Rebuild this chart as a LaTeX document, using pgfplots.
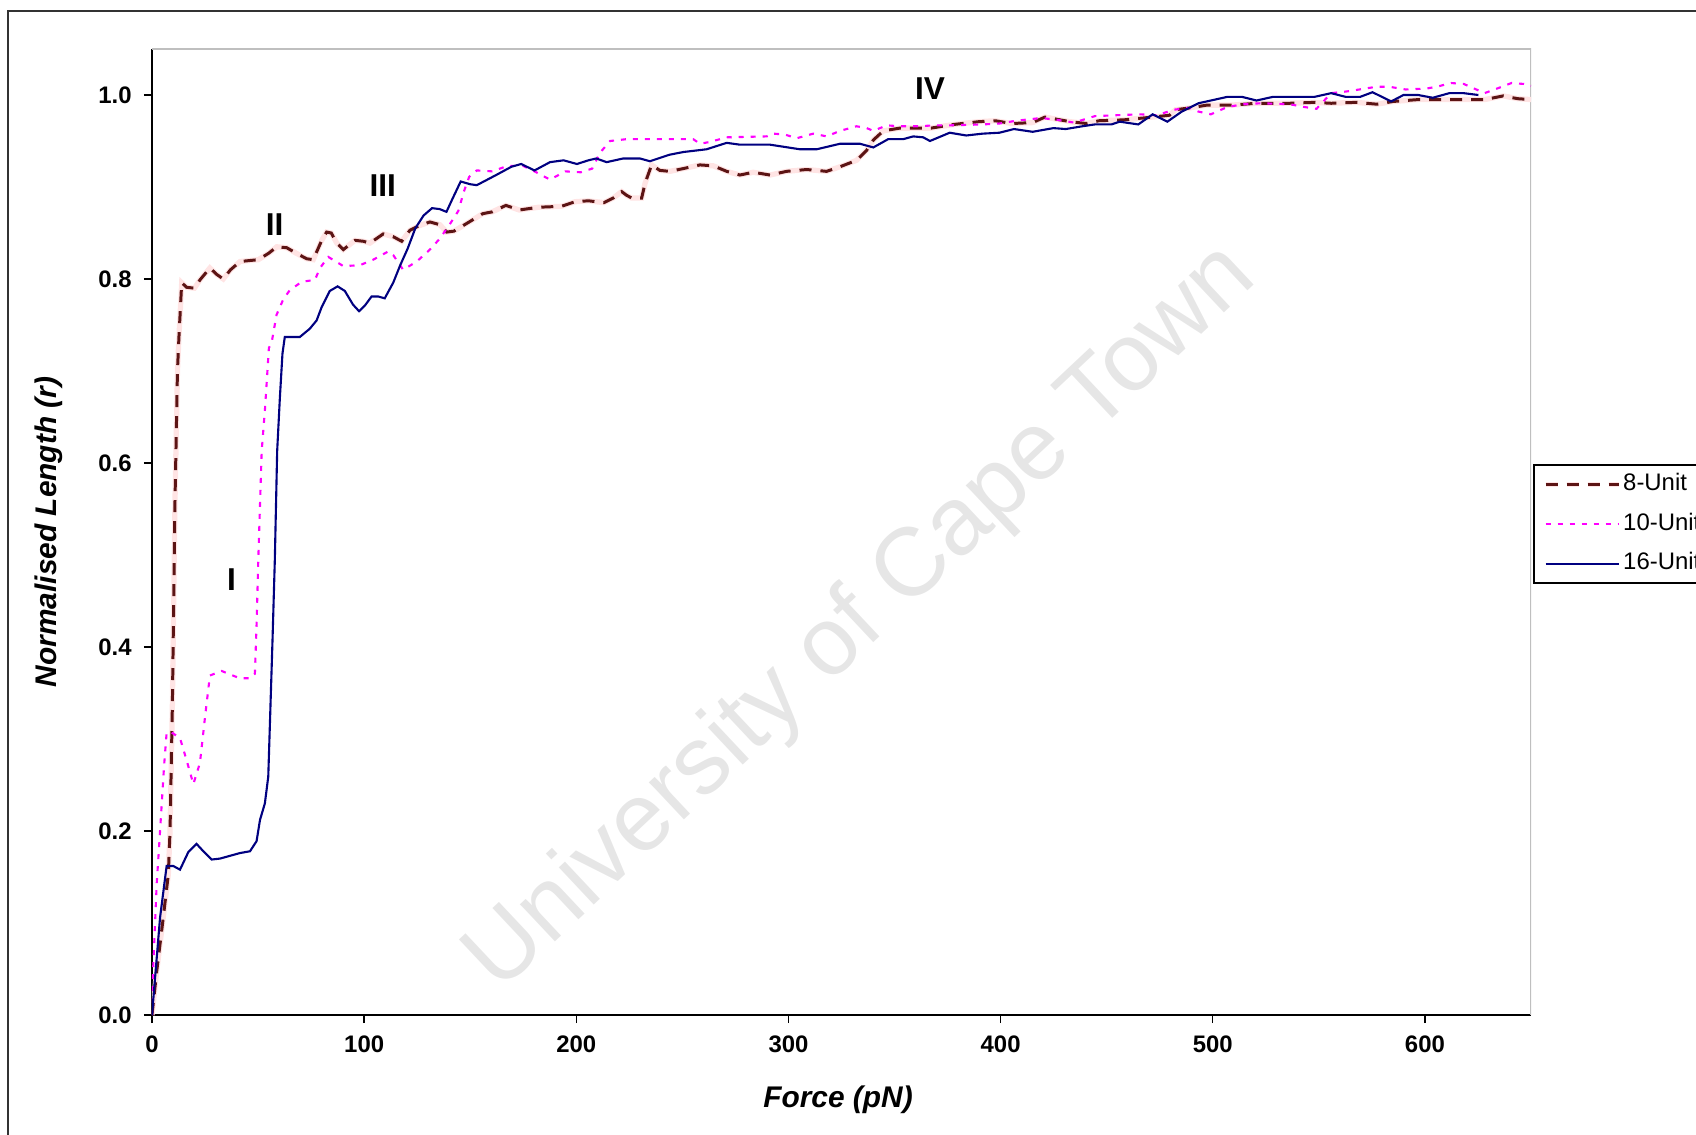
\documentclass[border=0pt]{standalone}
\usepackage{fontspec}
\setmainfont{Liberation Sans}
\usepackage{pgfplots}
\usepackage{pgfplotstable}
\pgfplotsset{compat=1.18}
\definecolor{maroon}{HTML}{5C1414}
\definecolor{halo}{HTML}{FFE4E4}
\definecolor{mag}{HTML}{FF00FF}
\definecolor{navy}{HTML}{000080}
\definecolor{framegray}{HTML}{BFBFBF}
\definecolor{wm}{HTML}{E6E6E6}
\pgfplotsset{
  plainlegend/.style={legend image code/.code={\draw[##1] (0mm,0mm) -- (7.3mm,0mm);}},
  halolegend/.style={legend image code/.code={\draw[halo, line width=1.5pt] (0mm,0mm) -- (7.3mm,0mm); \draw[##1] (0mm,0mm) -- (7.3mm,0mm);}},
}

\pgfplotstableread{
x y
0 0
2.2 0.047
5 0.10
7.7 0.153
8.5 0.2
9.6 0.336
10.8 0.554
12.0 0.70
12.7 0.737
14 0.796
16.3 0.791
20 0.790
22.6 0.799
27.3 0.812
30.5 0.805
33.6 0.800
37 0.810
41.5 0.819
50.1 0.821
55 0.828
58.8 0.835
63.5 0.834
68 0.828
72.9 0.822
76 0.821
80 0.842
82.3 0.851
84.5 0.850
87.1 0.839
90.2 0.832
95.7 0.842
99.6 0.841
102.7 0.839
109 0.849
113.7 0.846
117.7 0.841
121.6 0.853
126 0.858
131 0.862
135.7 0.859
138.9 0.851
142.3 0.852
149.5 0.862
155.9 0.871
160.4 0.873
166.8 0.880
173.1 0.875
182.2 0.878
193 0.879
199.4 0.884
205.7 0.885
213 0.883
217.4 0.888
221.4 0.895
223.7 0.891
226.1 0.888
230.8 0.888
232.4 0.904
235.5 0.924
239.4 0.918
244.1 0.917
250.4 0.920
258.3 0.924
264.6 0.923
270.9 0.917
277.1 0.913
283.4 0.916
291.3 0.913
299.1 0.917
308.6 0.919
318 0.917
324.3 0.922
332.1 0.929
336.9 0.940
340 0.951
344.7 0.961
352.5 0.964
367.2 0.964
378 0.968
389.7 0.971
397.5 0.972
405.3 0.969
415.1 0.970
420.9 0.976
432.7 0.971
440.5 0.969
446.3 0.972
458.1 0.973
471.7 0.976
479.6 0.978
482.5 0.984
489.3 0.986
497.2 0.989
508.9 0.989
520.6 0.991
536.2 0.991
548 0.992
555.8 0.991
567.5 0.992
577.3 0.990
585.1 0.993
596.8 0.995
610.5 0.995
628.1 0.995
636.9 0.999
643.7 0.996
650 0.995
}\eightunit

\pgfplotstableread{
x y
0 0
0.6 0.053
2.2 0.142
3.5 0.189
4.6 0.23
5.7 0.271
6.9 0.307
9.3 0.307
13.2 0.301
16.3 0.277
19.5 0.251
22.6 0.274
25 0.324
27.3 0.369
32.8 0.374
37 0.370
41.4 0.366
46.2 0.366
48.5 0.371
49.3 0.425
50.1 0.495
51.7 0.613
53.3 0.660
55.1 0.725
56.4 0.731
58.7 0.761
61.9 0.778
65 0.788
70.6 0.797
76.8 0.799
79.2 0.812
83.1 0.824
90.2 0.814
98 0.815
104.3 0.821
111.4 0.830
113.7 0.826
118.4 0.810
124.8 0.819
131 0.832
135.7 0.844
140.5 0.860
144.4 0.874
147 0.895
149.5 0.911
153.1 0.918
160.4 0.917
167.6 0.923
174.9 0.923
180.3 0.917
187.6 0.908
194.8 0.917
202.1 0.916
207.5 0.920
211.1 0.937
215.9 0.950
223.7 0.952
255.1 0.952
258.3 0.947
263 0.949
270.9 0.954
289.7 0.955
292.8 0.958
298.3 0.957
303.9 0.953
311.7 0.958
318 0.955
324.3 0.961
332.1 0.966
336.9 0.964
340 0.961
346.3 0.967
352.5 0.966
362 0.966
368.2 0.967
376 0.967
391.6 0.968
399.4 0.969
407.3 0.972
419 0.975
426.8 0.973
434.6 0.970
444.4 0.977
454.2 0.978
465.9 0.979
473.7 0.978
481.5 0.984
489.3 0.986
493.2 0.982
499.1 0.979
506.9 0.987
514.7 0.990
522.5 0.991
536.2 0.990
543 0.987
548.9 0.985
555.8 1.002
563.6 1.004
577.3 1.009
583.1 1.009
590.9 1.006
600.7 1.007
605.6 1.009
612.4 1.013
618.3 1.012
625.2 1.005
628.1 1.002
634 1.007
640.8 1.013
646.7 1.012
650 1.010
}\tenunit

\pgfplotstableread{
x y
0 0
3.8 0.106
6.9 0.162
10 0.162
13.2 0.158
17.1 0.177
21 0.186
24.2 0.178
28.1 0.169
32 0.170
41.4 0.176
46.2 0.178
49.3 0.189
50.9 0.212
53.2 0.23
54.8 0.259
55.6 0.318
56.8 0.407
57.9 0.495
59 0.613
60.3 0.672
61.5 0.719
62.6 0.737
69.7 0.737
74.4 0.746
77.6 0.755
79.9 0.769
83.8 0.787
87.5 0.792
90.9 0.787
94.8 0.772
97.6 0.765
100.3 0.771
103.5 0.781
106.6 0.781
109.7 0.779
113.7 0.796
117 0.815
120.5 0.833
124.1 0.855
128 0.869
132 0.877
135.6 0.876
138.8 0.873
141.4 0.886
145.5 0.906
150 0.903
153.1 0.902
162.2 0.913
169.4 0.922
174 0.925
180.3 0.918
187.6 0.927
194 0.929
200.3 0.925
205.7 0.929
209.4 0.931
214.3 0.927
222.1 0.931
230 0.931
234.7 0.928
243.8 0.935
250.4 0.938
261.4 0.941
270.9 0.948
277.1 0.946
291.3 0.946
305.4 0.941
313.3 0.941
324.3 0.947
333.7 0.947
340 0.943
347 0.952
354.1 0.952
358.8 0.955
363.5 0.954
366.7 0.950
376 0.959
383.8 0.956
391.6 0.958
399.4 0.959
406.3 0.963
415.1 0.960
424.9 0.964
430.7 0.963
438.5 0.966
444.4 0.968
452.2 0.968
456.1 0.971
464.9 0.968
471.7 0.979
478.6 0.971
485.4 0.982
493.2 0.991
506.9 0.998
513.7 0.998
520.6 0.994
528.4 0.998
548 0.998
555.8 1.002
562.6 0.998
569.5 0.998
575.3 1.003
584.1 0.993
589.9 1.0
596.8 1.0
603.7 0.997
611.5 1.002
618.3 1.002
625.2 1.0
}\sixteenunit

\begin{document}
\begin{tikzpicture}[x=1mm,y=1mm]
% watermark behind the plot
\node[rotate=43.2, text=wm, font=\fontsize{27.5}{30}\selectfont] at (86.2,51.5) {University of Cape Town};
\begin{axis}[
  at={(15.2mm,11.9mm)}, anchor=south west,
  scale only axis, width=137.9mm, height=96.6mm,
  xmin=0, xmax=650, ymin=0, ymax=1.05,
  axis x line*=bottom, axis y line*=left,
  x axis line style={-}, y axis line style={-},
  axis line style={black, line width=0.55pt},
  xtick={0,100,200,300,400,500,600},
  ytick={0,0.2,0.4,0.6,0.8,1},
  tick align=outside, major tick length=0.8mm,
  tick style={black, line width=0.4pt},
  /pgf/number format/assume math mode=true,
  ticklabel style={font=\fontsize{6.8}{8}\selectfont\bfseries},
  yticklabel style={/pgf/number format/fixed, /pgf/number format/fixed zerofill, /pgf/number format/precision=1},
  xlabel={Force (pN)}, ylabel={Normalised Length (r)},
  every axis x label/.style={at={(axis description cs:0.4975,-0.088)}, anchor=center,
    font=\fontsize{8.5}{10}\selectfont\bfseries\itshape},
  every axis y label/.style={at={(axis description cs:-0.0747,0.5)}, anchor=center, rotate=90,
    font=\fontsize{8.5}{10}\selectfont\bfseries\itshape},
  legend style={at={(axis description cs:1.0015,0.5704)}, anchor=north west,
    draw=black, line width=0.5pt, fill=white,
    font=\fontsize{6.8}{8}\selectfont,
    inner xsep=0.9mm, inner ysep=0mm, row sep=0pt, column sep=0.2mm,
    nodes={inner sep=0pt, minimum height=3.95mm, anchor=west}},
  legend cell align=left,
  plainlegend,
]
\draw[framegray, line width=0.6pt] (rel axis cs:0,1) -- (rel axis cs:1,1) -- (rel axis cs:1,0);

\addplot[halo, line width=1.5pt, forget plot] table[x=x,y=y] {\eightunit};
\addplot[maroon, line width=0.85pt, dash pattern=on 1.2mm off 0.9mm, halolegend]
  table[x=x,y=y] {\eightunit};
\addlegendentry{8-Unit}
\addplot[mag, line width=0.6pt, dash pattern=on 0.5mm off 0.7mm] table[x=x,y=y] {\tenunit};
\addlegendentry{10-Unit}
\addplot[navy, line width=0.6pt] table[x=x,y=y] {\sixteenunit};
\addlegendentry{16-Unit}

\node[font=\fontsize{9}{10}\selectfont\bfseries] at (axis cs:37.5,0.473) {I};
\node[font=\fontsize{9}{10}\selectfont\bfseries] at (axis cs:57.8,0.859) {II};
\node[font=\fontsize{9}{10}\selectfont\bfseries] at (axis cs:108.8,0.901) {III};
\node[font=\fontsize{9}{10}\selectfont\bfseries] at (axis cs:366.7,1.007) {IV};
\end{axis}
\draw[black!80, line width=0.55pt] (0.8,-20) -- (0.8,112.3) -- (200,112.3);
\pgfresetboundingbox
\path[use as bounding box] (0,0) rectangle (169.6,113.4);
\end{tikzpicture}
\end{document}
